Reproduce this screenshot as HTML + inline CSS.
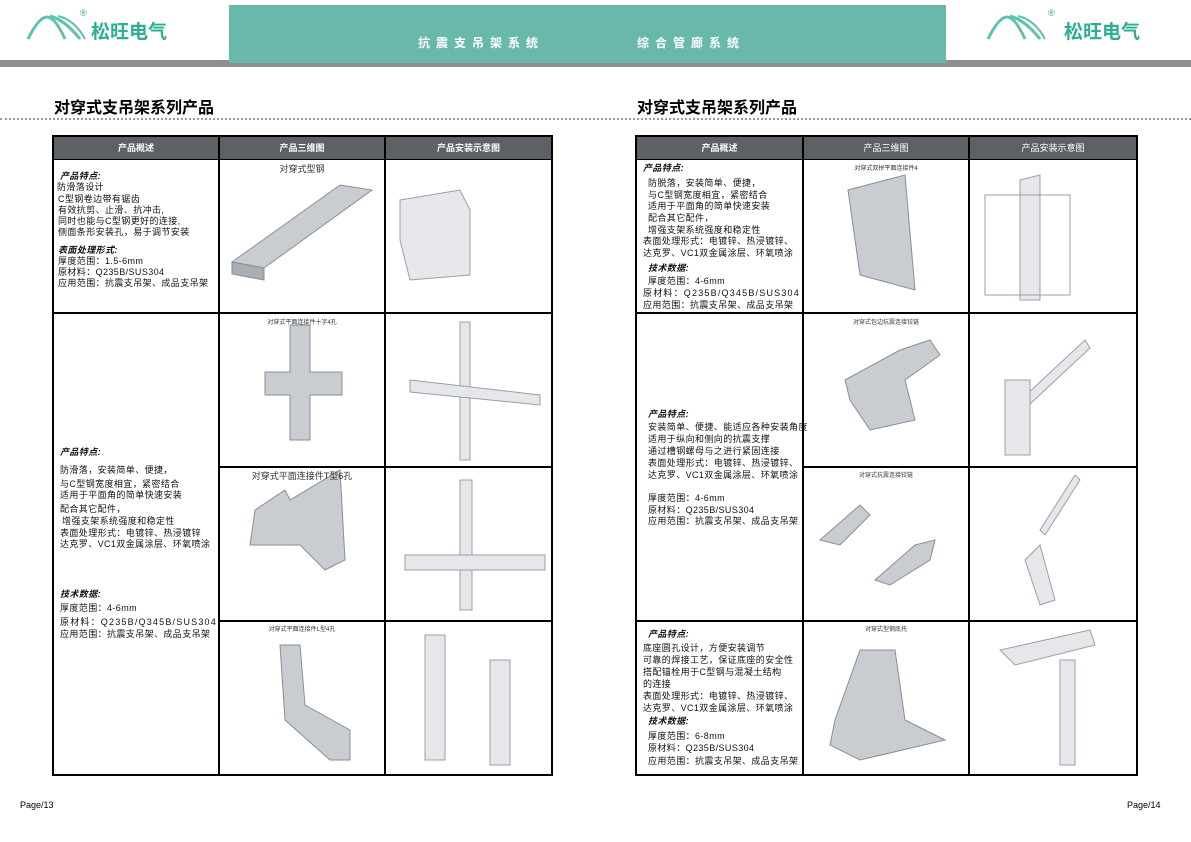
<!DOCTYPE html>
<html><head><meta charset="utf-8"><style>
body{margin:0;width:1191px;height:842px;position:relative;background:#fff;overflow:hidden;font-family:"Liberation Sans","Noto Sans CJK SC",sans-serif;}
.a{position:absolute;}
.t{position:absolute;font-size:9px;letter-spacing:0.4px;white-space:nowrap;color:#111;line-height:11px;}
.b{font-weight:bold;font-style:italic;}
.hd{position:absolute;background:#5d6166;color:#fff;font-size:9px;font-weight:bold;text-align:center;line-height:22px;height:22px;}
.cap{position:absolute;font-size:8px;color:#333;white-space:nowrap;text-align:center;}
.logo{position:absolute;font-size:19px;color:#2fae96;font-weight:bold;}
</style></head><body>
<div class="a" style="left:0;top:60px;width:1191px;height:7px;background:#8e8f92"></div>
<div class="a" style="left:229px;top:5px;width:717px;height:58px;background:#68b9ac"></div>
<div class="a" style="left:418px;top:34px;color:#fff;font-size:12px;font-weight:bold;letter-spacing:6px;">抗震支吊架系统</div>
<div class="a" style="left:637px;top:34px;color:#fff;font-size:12px;font-weight:bold;letter-spacing:6px;">综合管廊系统</div>
<svg class="a" style="left:25px;top:12px" width="80" height="30"><path d="M3 27 Q14 5 22 5 Q30 5 40 27" stroke="#5fc2b0" stroke-width="3" fill="none"/><path d="M25 4 Q40 8 55 27" stroke="#5fc2b0" stroke-width="3" fill="none"/><path d="M33 4 Q50 8 60 27" stroke="#5fc2b0" stroke-width="2" fill="none"/></svg>
<div class="a" style="left:80px;top:8px;font-size:9px;color:#3aa">®</div>
<div class="logo" style="left:91px;top:17px">松旺电气</div>
<svg class="a" style="left:985px;top:12px" width="80" height="30"><path d="M3 27 Q14 5 22 5 Q30 5 40 27" stroke="#5fc2b0" stroke-width="3" fill="none"/><path d="M25 4 Q40 8 55 27" stroke="#5fc2b0" stroke-width="3" fill="none"/><path d="M33 4 Q50 8 60 27" stroke="#5fc2b0" stroke-width="2" fill="none"/></svg>
<div class="a" style="left:1048px;top:8px;font-size:9px;color:#3aa">®</div>
<div class="logo" style="left:1064px;top:17px">松旺电气</div>
<div class="a" style="left:54px;top:94px;font-size:16px;font-weight:bold;">对穿式支吊架系列产品</div>
<div class="a" style="left:637px;top:94px;font-size:16px;font-weight:bold;">对穿式支吊架系列产品</div>
<div class="a" style="left:0;top:118px;width:1191px;border-top:2px dotted #999"></div>
<div class="a" style="left:20px;top:800px;font-size:9px">Page/13</div>
<div class="a" style="left:1127px;top:800px;font-size:9px">Page/14</div>

<svg class="a" style="left:0;top:0" width="1191" height="842">
<g stroke="#000" stroke-width="2" fill="none">
<rect x="53" y="136" width="499" height="639"/>
<line x1="219" y1="136" x2="219" y2="775"/><line x1="385" y1="136" x2="385" y2="775"/>
<line x1="53" y1="159" x2="552" y2="159"/><line x1="53" y1="313" x2="552" y2="313"/>
<line x1="219" y1="467" x2="552" y2="467"/><line x1="219" y1="621" x2="552" y2="621"/>
<rect x="636" y="136" width="501" height="639"/>
<line x1="803" y1="136" x2="803" y2="775"/><line x1="969" y1="136" x2="969" y2="775"/>
<line x1="636" y1="159" x2="1137" y2="159"/><line x1="636" y1="313" x2="1137" y2="313"/>
<line x1="803" y1="467" x2="1137" y2="467"/><line x1="636" y1="621" x2="1137" y2="621"/>
</g>
<g fill="#c9ccd1" stroke="#8a8f96" stroke-width="1">
<polygon points="232,262 340,185 372,190 264,268"/><polygon points="232,262 264,268 264,280 232,274" fill="#a9aeb5"/>
<polygon points="290,325 310,325 310,372 342,372 342,395 310,395 310,440 290,440 290,395 265,395 265,372 290,372" />
<polygon points="255,510 285,490 290,500 340,470 345,560 325,570 300,545 250,545"/>
<polygon points="280,645 300,645 305,705 350,730 350,760 330,760 285,720"/>
<polygon points="848,190 905,175 915,290 860,275" />
<polygon points="845,380 900,350 930,340 940,355 905,380 915,420 870,430 850,400"/>
<polygon points="820,540 860,505 870,515 840,545"/><polygon points="875,580 915,545 935,540 930,560 890,585"/>
<polygon points="835,720 860,650 895,650 905,720 945,740 860,760 830,745"/>
</g>
<g fill="#e6e7ea" stroke="#9aa0a6" stroke-width="1">
<polygon points="400,200 460,190 470,210 470,275 410,280 400,240"/>
<polygon points="460,322 470,322 470,460 460,460"/><polygon points="410,380 540,395 540,405 410,392"/>
<polygon points="460,480 472,480 472,610 460,610"/><polygon points="405,555 545,555 545,570 405,570"/>
<polygon points="425,635 445,635 445,760 425,760"/><polygon points="490,660 510,660 510,765 490,765"/>
<polygon points="1020,180 1040,175 1040,300 1020,300"/><polygon points="985,195 1070,195 1070,295 985,295" fill="none"/>
<polygon points="1010,410 1085,340 1090,348 1015,418"/><polygon points="1005,380 1030,380 1030,455 1005,455"/>
<polygon points="1040,530 1075,475 1080,480 1045,535"/><polygon points="1025,560 1040,545 1055,600 1040,605"/>
<polygon points="1000,650 1090,630 1095,645 1015,665"/><polygon points="1060,660 1075,660 1075,765 1060,765"/>
</g>
</svg>
<div class="hd" style="left:54px;top:137px;width:164px">产品概述</div>
<div class="hd" style="left:220px;top:137px;width:164px">产品三维图</div>
<div class="hd" style="left:386px;top:137px;width:165px">产品安装示意图</div>
<div class="hd" style="left:637px;top:137px;width:165px">产品概述</div>
<div class="hd" style="left:804px;top:137px;width:164px;font-weight:normal">产品三维图</div>
<div class="hd" style="left:970px;top:137px;width:166px;font-weight:normal">产品安装示意图</div>

<div class="cap" style="left:220px;top:162px;width:164px;font-size:9px">对穿式型钢</div>
<div class="cap" style="left:220px;top:317px;width:164px;font-size:6px">对穿式平面连接件十字4孔</div>
<div class="cap" style="left:220px;top:469px;width:164px;font-size:9px">对穿式平面连接件T型6孔</div>
<div class="cap" style="left:220px;top:624px;width:164px;font-size:6px">对穿式平面连接件L型4孔</div>
<div class="cap" style="left:804px;top:163px;width:164px;font-size:6px">对穿式双拼平面连接件4</div>
<div class="cap" style="left:804px;top:317px;width:164px;font-size:6px">对穿式包边抗震连接铰链</div>
<div class="cap" style="left:804px;top:470px;width:164px;font-size:6px">对穿式抗震连接铰链</div>
<div class="cap" style="left:804px;top:624px;width:164px;font-size:6px">对穿式型钢底托</div>

<div class="t b" style="left:60px;top:171px">产品特点:</div>
<div class="t" style="left:57px;top:182px">防滑落设计</div>
<div class="t" style="left:58px;top:194px">C型钢卷边带有锯齿</div>
<div class="t" style="left:58px;top:205px">有效抗剪、止滑、抗冲击,</div>
<div class="t" style="left:58px;top:216px">同时也能与C型钢更好的连接,</div>
<div class="t" style="left:58px;top:227px">侧面条形安装孔，易于调节安装</div>
<div class="t b" style="left:58px;top:245px">表面处理形式:</div>
<div class="t" style="left:58px;top:256px">厚度范围：1.5-6mm</div>
<div class="t" style="left:58px;top:267px">原材料：Q235B/SUS304</div>
<div class="t" style="left:58px;top:278px">应用范围：抗震支吊架、成品支吊架</div>

<div class="t b" style="left:60px;top:447px">产品特点:</div>
<div class="t" style="left:60px;top:465px">防滑落，安装简单、便捷，</div>
<div class="t" style="left:60px;top:479px">与C型钢宽度相宜，紧密结合</div>
<div class="t" style="left:60px;top:490px">适用于平面角的简单快速安装</div>
<div class="t" style="left:60px;top:504px">配合其它配件，</div>
<div class="t" style="left:62px;top:516px">增强支架系统强度和稳定性</div>
<div class="t" style="left:60px;top:528px">表面处理形式：电镀锌、热浸镀锌</div>
<div class="t" style="left:60px;top:539px">达克罗、VC1双金属涂层、环氧喷涂</div>
<div class="t b" style="left:60px;top:589px">技术数据:</div>
<div class="t" style="left:60px;top:603px">厚度范围：4-6mm</div>
<div class="t" style="left:60px;top:617px;letter-spacing:1.2px">原材料：Q235B/Q345B/SUS304</div>
<div class="t" style="left:60px;top:629px">应用范围：抗震支吊架、成品支吊架</div>

<div class="t b" style="left:643px;top:163px">产品特点:</div>
<div class="t" style="left:648px;top:178px">防脱落，安装简单、便捷，</div>
<div class="t" style="left:648px;top:190px">与C型钢宽度相宜，紧密结合</div>
<div class="t" style="left:648px;top:201px">适用于平面角的简单快速安装</div>
<div class="t" style="left:648px;top:213px">配合其它配件，</div>
<div class="t" style="left:648px;top:225px">增强支架系统强度和稳定性</div>
<div class="t" style="left:643px;top:236px">表面处理形式：电镀锌、热浸镀锌、</div>
<div class="t" style="left:643px;top:248px">达克罗、VC1双金属涂层、环氧喷涂</div>
<div class="t b" style="left:648px;top:263px">技术数据:</div>
<div class="t" style="left:648px;top:276px">厚度范围：4-6mm</div>
<div class="t" style="left:643px;top:288px;letter-spacing:1.2px">原材料：Q235B/Q345B/SUS304</div>
<div class="t" style="left:643px;top:300px">应用范围：抗震支吊架、成品支吊架</div>

<div class="t b" style="left:648px;top:409px">产品特点:</div>
<div class="t" style="left:648px;top:422px">安装简单、便捷、能适应各种安装角度</div>
<div class="t" style="left:648px;top:434px">适用于纵向和侧向的抗震支撑</div>
<div class="t" style="left:648px;top:446px">通过槽钢螺母与之进行紧固连接</div>
<div class="t" style="left:648px;top:458px">表面处理形式：电镀锌、热浸镀锌、</div>
<div class="t" style="left:648px;top:470px">达克罗、VC1双金属涂层、环氧喷涂</div>
<div class="t" style="left:648px;top:493px">厚度范围：4-6mm</div>
<div class="t" style="left:648px;top:505px">原材料：Q235B/SUS304</div>
<div class="t" style="left:648px;top:516px">应用范围：抗震支吊架、成品支吊架</div>

<div class="t b" style="left:648px;top:629px">产品特点:</div>
<div class="t" style="left:643px;top:643px">底座圆孔设计，方便安装调节</div>
<div class="t" style="left:643px;top:655px">可靠的焊接工艺，保证底座的安全性</div>
<div class="t" style="left:643px;top:667px">搭配锚栓用于C型钢与混凝土结构</div>
<div class="t" style="left:643px;top:679px">的连接</div>
<div class="t" style="left:643px;top:691px">表面处理形式：电镀锌、热浸镀锌、</div>
<div class="t" style="left:643px;top:703px">达克罗、VC1双金属涂层、环氧喷涂</div>
<div class="t b" style="left:648px;top:716px">技术数据:</div>
<div class="t" style="left:648px;top:731px">厚度范围：6-8mm</div>
<div class="t" style="left:648px;top:743px">原材料：Q235B/SUS304</div>
<div class="t" style="left:648px;top:756px">应用范围：抗震支吊架、成品支吊架</div>
</body></html>
